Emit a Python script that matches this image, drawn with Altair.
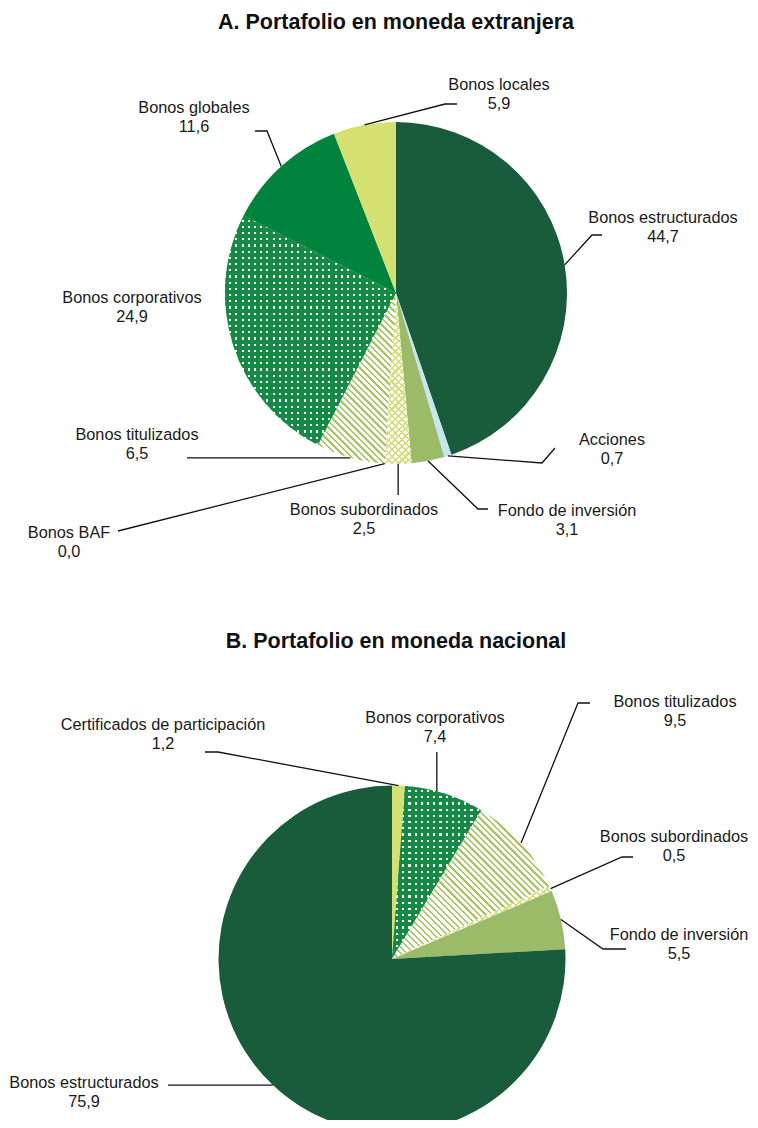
import math
import altair as alt
import pandas as pd

# ---------------- data ----------------
a_cats = ["Bonos estructurados", "Acciones", "Fondo de inversión", "Bonos subordinados",
          "Bonos BAF", "Bonos titulizados", "Bonos corporativos", "Bonos globales", "Bonos locales"]
a_vals = [44.7, 0.7, 3.1, 2.5, 0.0, 6.5, 24.9, 11.6, 5.9]

b_cats = ["Certificados de participación", "Bonos corporativos", "Bonos titulizados",
          "Bonos subordinados", "Fondo de inversión", "Bonos estructurados"]
b_vals = [1.2, 7.4, 9.5, 0.5, 5.5, 75.9]

panel_titles = ["A. Portafolio en moneda extranjera", "B. Portafolio en moneda nacional"]

# ---------------- styles ----------------
FONT = "Liberation Sans"
STYLE = {
    "Bonos estructurados": ("solid", "#185c3b"),
    "Acciones": ("solid", "#c6e6ef"),
    "Fondo de inversión": ("solid", "#9cbb69"),
    "Bonos subordinados": ("cross", "#d2df72"),
    "Bonos BAF": ("solid", "#d2df72"),
    "Bonos titulizados": ("stripes", "#a3c75a"),
    "Bonos corporativos": ("dots", "#148a45"),
    "Bonos globales": ("solid", "#00843d"),
    "Bonos locales": ("solid", "#d4e06f"),
    "Certificados de participación": ("solid", "#d4e06f"),
}
CLEAR = "rgba(255,255,255,0)"

# ---------------- layout (page pixel coordinates) ----------------
PIES = [
    dict(cats=a_cats, vals=a_vals, cx=396, cy=293, r=171, title=panel_titles[0], tx=396, ty=23,
         labels={
             "Bonos estructurados": dict(x=663, y=218, path=[(592, 235), (602, 235)]),
             "Acciones": dict(x=612, y=440, path=[(542, 463), (555, 448)]),
             "Fondo de inversión": dict(x=567, y=511, path=[(478, 509), (488, 509)]),
             "Bonos subordinados": dict(x=364, y=510, path=[("ax", 495)]),
             "Bonos BAF": dict(x=69, y=533, path=[(118, 531)]),
             "Bonos titulizados": dict(x=137, y=435, path=[(187, "ay")]),
             "Bonos corporativos": dict(x=132, y=298, path=None),
             "Bonos globales": dict(x=194, y=108, path=[(267, 131), (255, 131)]),
             "Bonos locales": dict(x=499, y=85, path=[(445, 104), (457, 104)]),
         }),
    dict(cats=b_cats, vals=b_vals, cx=392, cy=959, r=173.5, title=panel_titles[1], tx=396, ty=642,
         labels={
             "Certificados de participación": dict(x=163, y=725, path=[(218, 752), (205, 752)]),
             "Bonos corporativos": dict(x=435, y=718, path=[("ax", 752)], f=0.4),
             "Bonos titulizados": dict(x=675, y=702, path=[(578, 703), (590, 703)]),
             "Bonos subordinados": dict(x=674, y=837, path=[(622, 857), (633, 857)]),
             "Fondo de inversión": dict(x=679, y=935, path=[(603, 949), (626, 949)]),
             "Bonos estructurados": dict(x=84, y=1083, path=[(168, "ay")]),
         }),
]
LINE_GAP = 19

TWO_PI = 2 * math.pi
theta_scale = alt.Scale(domain=[0, 1], range=[0, TWO_PI])
xs = alt.Scale(domain=[8, 750], range=[0, 742], nice=False, zero=False)
ys = alt.Scale(domain=[8, 1120], range=[0, 1112], nice=False, zero=False)


def sector_bbox(a0, a1, r):
    pts = [(0.0, 0.0), (r * math.sin(a0), -r * math.cos(a0)), (r * math.sin(a1), -r * math.cos(a1))]
    for k in range(5):
        ang = k * math.pi / 2
        if a0 <= ang <= a1:
            pts.append((r * math.sin(ang), -r * math.cos(ang)))
    px = [p[0] for p in pts]
    py = [p[1] for p in pts]
    return max(max(px) - min(px), 1.0), max(max(py) - min(py), 1.0)


def stripes(kind, w, h, period, ink, color, gap):
    if kind == "h":
        x1, y1, x2, y2, span = 0, 0, 0, 1, h
    elif kind == "v":
        x1, y1, x2, y2, span = 0, 0, 1, 0, w
    elif kind == "back":
        s = (w + h) / (w * w + h * h)
        x1, y1, x2, y2, span = 0, 1, s * w, 1 - s * h, (w + h) / math.sqrt(2)
    else:
        s = (w + h) / (w * w + h * h)
        x1, y1, x2, y2, span = 0, 0, s * w, s * h, (w + h) / math.sqrt(2)
    n = span / period
    fi = ink / period
    stops = []
    k = 0
    while k < n:
        a = min(k / n, 1.0)
        b = min((k + fi) / n, 1.0)
        c = min((k + 1) / n, 1.0)
        stops += [{"offset": a, "color": color}, {"offset": b, "color": color},
                  {"offset": b, "color": gap}, {"offset": c, "color": gap}]
        k += 1
    return {"gradient": "linear", "x1": x1, "y1": y1, "x2": x2, "y2": y2, "stops": stops}


layers = []
label_rows = []
line_rows = []
title_rows = []

for pi, P in enumerate(PIES):
    df = pd.DataFrame({"cat": P["cats"], "val": P["vals"], "ord": list(range(len(P["cats"])))})
    base = alt.Chart(df).transform_stack(
        stack="val", as_=["s0", "s1"], groupby=[],
        sort=[alt.SortField("ord", order="ascending")], offset="normalize")
    total = sum(P["vals"])
    cx, cy, r = P["cx"], P["cy"], P["r"]
    title_rows.append({"t": P["title"], "x": P["tx"], "y": P["ty"]})
    cum = 0.0

    def arc(cat, fill):
        return base.transform_filter(alt.datum.cat == cat).mark_arc(
            outerRadius=r, fill=fill, strokeWidth=0).encode(
            theta=alt.Theta("s0:Q", scale=theta_scale),
            theta2=alt.Theta2("s1"),
            x=alt.value(cx - 8), y=alt.value(cy - 8))

    for cat, v in zip(P["cats"], P["vals"]):
        a0 = TWO_PI * cum / total
        a1 = TWO_PI * (cum + v) / total
        cum += v
        kind, col = STYLE[cat]
        if v > 0:
            w, h = sector_bbox(a0, a1, r)
            if kind == "solid":
                layers.append(arc(cat, col))
            elif kind == "stripes":
                layers.append(arc(cat, stripes("back", w, h, 4.6, 1.7, col, "#ffffff")))
            elif kind == "cross":
                layers.append(arc(cat, "#ffffff"))
                layers.append(arc(cat, stripes("back", w, h, 4.8, 1.5, col, CLEAR)))
                layers.append(arc(cat, stripes("fwd", w, h, 4.8, 1.5, col, CLEAR)))
            elif kind == "dots":
                layers.append(arc(cat, "#ffffff"))
                layers.append(arc(cat, stripes("h", w, h, 6.2, 4.1, col, CLEAR)))
                layers.append(arc(cat, stripes("v", w, h, 6.2, 4.1, col, CLEAR)))
        lab = P["labels"].get(cat)
        if lab is None:
            continue
        label_rows.append({"name": cat, "value": f"{v:.1f}".replace(".", ","),
                           "tx": lab["x"], "ty1": lab["y"], "ty2": lab["y"] + LINE_GAP})
        if lab["path"]:
            f = lab.get("f", 0.5)
            am = a0 + (a1 - a0) * f
            ax = cx + r * math.sin(am)
            ay = cy - r * math.cos(am)
            pts = [(ax, ay)]
            for (px, py) in lab["path"]:
                pts.append((ax if px == "ax" else px, ay if py == "ay" else py))
            lid = f"{pi}-{cat}"
            for s, (px, py) in enumerate(pts):
                line_rows.append({"id": lid, "seq": s, "x": px, "y": py})

lines = alt.Chart(pd.DataFrame(line_rows)).mark_line(color="#111111", strokeWidth=1.3).encode(
    x=alt.X("x:Q", scale=xs, axis=None),
    y=alt.Y("y:Q", scale=ys, axis=None),
    detail="id:N", order="seq:Q")

lab_df = pd.DataFrame(label_rows)
tb = alt.Chart(lab_df).mark_text(font=FONT, fontSize=16.3, color="#1a1a1a", align="center", baseline="middle")
t1 = tb.encode(x=alt.X("tx:Q", scale=xs, axis=None), y=alt.Y("ty1:Q", scale=ys, axis=None), text="name:N")
t2 = tb.encode(x=alt.X("tx:Q", scale=xs, axis=None), y=alt.Y("ty2:Q", scale=ys, axis=None), text="value:N")

titles = alt.Chart(pd.DataFrame(title_rows)).mark_text(
    font=FONT, fontSize=21.5, fontWeight="bold", color="#111111", align="center", baseline="middle").encode(
    x=alt.X("x:Q", scale=xs, axis=None), y=alt.Y("y:Q", scale=ys, axis=None), text="t:N")

chart = alt.layer(*layers, lines, t1, t2, titles).properties(
    width=742, height=1112, autosize=alt.AutoSizeParams(type="none"), padding=0
).configure_view(strokeWidth=0)

chart.save("out.html", embed_options={"renderer": "svg", "actions": False})
